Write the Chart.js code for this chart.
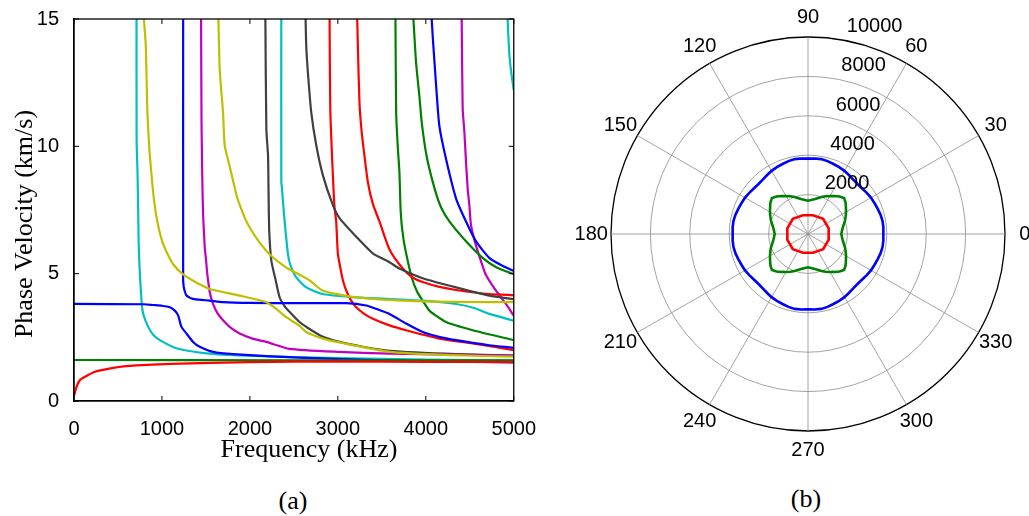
<!DOCTYPE html>
<html>
<head>
<meta charset="utf-8">
<script src="https://cdn.jsdelivr.net/npm/chart.js@4.4.1/dist/chart.umd.min.js"></script>
<style>
  body { margin: 0; background: #fff; width: 1029px; height: 516px; position: relative; overflow: hidden; }
  #leftBox { position: absolute; left: 0; top: 0; width: 544px; height: 470px; }
  #rightBox { position: absolute; left: 540px; top: 0; width: 489px; height: 470px; }
  .cap { position: absolute; font-family: 'Liberation Serif', 'Times New Roman', serif; font-size: 26px; color: #000; transform: translate(-50%, -50%); }
</style>
</head>
<body>
<div id="leftBox"><canvas id="dispChart" width="544" height="470"></canvas></div>
<div id="rightBox"><canvas id="polarChart" width="489" height="470"></canvas></div>
<div class="cap" style="left:293px; top:501px;">(a)</div>
<div class="cap" style="left:806px; top:499px;">(b)</div>
<script>
// ---- (a) dispersion curves: frequency (kHz) / phase velocity (km/s) ----
const xTicks = [0, 1000, 2000, 3000, 4000, 5000];
const yTicks = [0, 5, 10, 15];

const redA_f = [0, 30, 70, 150, 230, 400, 600, 1100, 2000, 3000, 4000, 5000];
const redA_v = [0.2, 0.57, 0.83, 1.0, 1.14, 1.27, 1.37, 1.46, 1.53, 1.55, 1.54, 1.53];

const greenA_f = [0, 2500, 5000];
const greenA_v = [1.61, 1.6, 1.6];

const blueA_f = [0, 800, 900, 1000, 1090, 1146, 1184, 1222, 1279, 1354, 1430, 1581, 1808, 2565, 3500, 5000];
const blueA_v = [3.81, 3.8, 3.77, 3.74, 3.68, 3.55, 3.36, 2.91, 2.65, 2.32, 2.13, 1.93, 1.84, 1.7, 1.6, 1.52];

const cyanA_f = [711, 712, 722, 728, 738, 768, 787, 844, 900, 976, 1165, 1506, 1960, 3000, 4000, 5000];
const cyanA_v = [15, 10.2, 9.0, 7.83, 5.88, 3.94, 3.42, 2.91, 2.6, 2.39, 2.07, 1.87, 1.78, 1.68, 1.63, 1.59];

const yellowA_f = [795, 817, 832, 855, 882, 912, 950, 1000, 1060, 1127, 1230, 1354, 1544, 1884, 2187, 2300, 2414, 2565, 2641, 2830, 3019, 3587, 4300, 5000];
const yellowA_v = [15, 13.9, 11.6, 10.0, 8.86, 7.83, 7.0, 6.3, 5.8, 5.37, 5.0, 4.72, 4.4, 4.14, 3.88, 3.62, 3.29, 2.95, 2.71, 2.45, 2.3, 1.93, 1.8, 1.74];

const blueB_f = [1241, 1241, 1244, 1249, 1262, 1279, 1320, 1354, 1450, 1544, 1695, 2000, 2565, 3095, 3322, 3450, 3587, 3776, 3965, 4150, 4344, 4722, 5000];
const blueB_v = [15, 4.74, 4.6, 4.46, 4.28, 4.14, 4.05, 4.01, 3.97, 3.94, 3.88, 3.85, 3.84, 3.84, 3.75, 3.6, 3.42, 3.04, 2.71, 2.52, 2.39, 2.19, 2.09];

const magentaA_f = [1445, 1450, 1460, 1468, 1487, 1500, 1512, 1525, 1545, 1581, 1630, 1695, 1780, 1884, 2030, 2187, 2450, 3000, 3587, 4300, 5000];
const magentaA_v = [15, 10.9, 8.5, 7.31, 6.01, 5.6, 5.1, 4.72, 4.25, 3.81, 3.45, 3.17, 2.88, 2.65, 2.45, 2.32, 2.05, 1.93, 1.86, 1.82, 1.78];

const yellowB_f = [1642, 1657, 1695, 1714, 1771, 1847, 1884, 1960, 2074, 2225, 2414, 2565, 2679, 2830, 3209, 3965, 5000];
const yellowB_v = [15, 13.0, 11.3, 10.03, 9.2, 8.09, 7.7, 7.05, 6.4, 5.76, 5.24, 4.96, 4.74, 4.33, 4.07, 3.91, 3.88];

const greyA_f = [2176, 2187, 2206, 2213, 2220, 2244, 2293, 2338, 2400, 2452, 2565, 2641, 2830, 3019, 3300, 3587, 4344, 5000];
const greyA_v = [15, 10.67, 9.64, 7.95, 6.66, 5.5, 4.74, 4.07, 3.7, 3.5, 3.1, 2.91, 2.52, 2.32, 2.12, 1.97, 1.84, 1.78];

const cyanB_f = [2357, 2357, 2365, 2376, 2395, 2433, 2460, 2527, 2641, 2830, 3209, 3965, 4344, 4550, 4722, 5000];
const cyanB_v = [15, 8.6, 8.34, 7.83, 7.05, 5.76, 5.35, 4.85, 4.46, 4.2, 4.07, 3.94, 3.81, 3.65, 3.42, 3.15];

const greyB_f = [2633, 2641, 2660, 2698, 2755, 2830, 2943, 3019, 3209, 3397, 3587, 3700, 3965, 4344, 4722, 5000];
const greyB_v = [15, 13.9, 12.87, 11.32, 10.03, 8.86, 7.7, 7.18, 6.45, 5.8, 5.45, 5.2, 4.82, 4.46, 4.14, 4.0];

const redB_f = [2906, 2914, 2943, 2963, 2981, 3000, 3030, 3060, 3100, 3150, 3209, 3300, 3397, 3580, 3776, 4154, 4533, 5000];
const redB_v = [15, 11.45, 8.9, 7.57, 7.05, 5.8, 5.2, 4.7, 4.3, 3.95, 3.68, 3.42, 3.23, 2.98, 2.78, 2.45, 2.26, 2.0];

const redC_f = [3220, 3227, 3246, 3270, 3300, 3341, 3397, 3473, 3587, 3738, 3850, 3965, 4154, 4344, 4722, 5000];
const redC_v = [15, 14.0, 11.7, 10.6, 9.7, 8.6, 7.75, 7.05, 5.95, 5.2, 4.85, 4.67, 4.48, 4.36, 4.2, 4.16];

const greenB_f = [3655, 3663, 3681, 3700, 3715, 3740, 3776, 3840, 3900, 3965, 4041, 4230, 4533, 5000];
const greenB_v = [15, 11.3, 10.0, 8.99, 7.4, 6.5, 5.8, 4.85, 4.3, 3.94, 3.55, 3.1, 2.78, 2.39];

const greenC_f = [3859, 3871, 3890, 3927, 3955, 4010, 4100, 4174, 4268, 4457, 4646, 4800, 5000];
const greenC_v = [15, 14.3, 13.26, 11.97, 10.9, 9.6, 8.34, 7.6, 7.05, 6.27, 5.62, 5.25, 4.98];

const blueC_f = [4067, 4079, 4117, 4154, 4230, 4344, 4457, 4571, 4722, 4850, 5000];
const blueC_v = [15, 14.3, 12.4, 10.8, 9.5, 7.95, 7.05, 6.27, 5.62, 5.35, 5.11];

const magentaB_f = [4408, 4419, 4438, 4457, 4476, 4495, 4514, 4571, 4646, 4684, 4798, 4911, 5000];
const magentaB_v = [15, 11.5, 10.6, 9.4, 8.34, 7.7, 6.9, 6.1, 5.3, 4.95, 4.33, 3.81, 3.35];

const cyanC_f = [4930, 4949, 4968, 5000];
const cyanC_v = [15, 13.65, 13.0, 12.2];

const BLUE = '#0000ff', GREEN = '#008000', RED = '#ff0000', CYAN = '#00bfbf',
      MAGENTA = '#bf00bf', YELLOW = '#bfbf00', GREY = '#404040';

function curve(f, v, color) {
  return {
    data: f.map((x, i) => ({ x: x, y: v[i] })),
    borderColor: color,
    borderWidth: 2.2,
    pointRadius: 0,
    showLine: true,
    tension: 0.2,
    fill: false
  };
}

const dispSets = [
  curve(redA_f, redA_v, RED),
  curve(greenA_f, greenA_v, GREEN),
  curve(blueA_f, blueA_v, BLUE),
  curve(cyanA_f, cyanA_v, CYAN),
  curve(yellowA_f, yellowA_v, YELLOW),
  curve(blueB_f, blueB_v, BLUE),
  curve(magentaA_f, magentaA_v, MAGENTA),
  curve(yellowB_f, yellowB_v, YELLOW),
  curve(greyA_f, greyA_v, GREY),
  curve(cyanB_f, cyanB_v, CYAN),
  curve(greyB_f, greyB_v, GREY),
  curve(redB_f, redB_v, RED),
  curve(redC_f, redC_v, RED),
  curve(greenB_f, greenB_v, GREEN),
  curve(greenC_f, greenC_v, GREEN),
  curve(blueC_f, blueC_v, BLUE),
  curve(magentaB_f, magentaB_v, MAGENTA),
  curve(cyanC_f, cyanC_v, CYAN)
];

const sansFont = { family: "'Liberation Sans', Arial, sans-serif", size: 20 };

// box, inward ticks and axis titles like the original figure
const frameLeft = {
  id: 'frameLeft',
  afterDraw(chart) {
    const { ctx, chartArea: a, scales: { x, y } } = chart;
    ctx.save();
    ctx.strokeStyle = '#000';
    ctx.lineWidth = 1.3;
    ctx.strokeRect(a.left, a.top, a.right - a.left, a.bottom - a.top);
    ctx.lineWidth = 1;
    ctx.beginPath();
    xTicks.forEach(t => {
      const px = x.getPixelForValue(t);
      ctx.moveTo(px, a.bottom); ctx.lineTo(px, a.bottom - 5);
      ctx.moveTo(px, a.top); ctx.lineTo(px, a.top + 5);
    });
    yTicks.forEach(t => {
      const py = y.getPixelForValue(t);
      ctx.moveTo(a.left, py); ctx.lineTo(a.left + 5, py);
      ctx.moveTo(a.right, py); ctx.lineTo(a.right - 5, py);
    });
    ctx.stroke();
    ctx.fillStyle = '#000';
    ctx.font = "26px 'Liberation Serif', 'Times New Roman', serif";
    ctx.textAlign = 'center';
    ctx.textBaseline = 'middle';
    ctx.fillText('Frequency (kHz)', 309, 450);
    ctx.translate(25, 224);
    ctx.rotate(-Math.PI / 2);
    ctx.fillText('Phase Velocity (km/s)', 0, 0);
    ctx.restore();
  }
};

new Chart(document.getElementById('dispChart'), {
  type: 'scatter',
  data: { datasets: dispSets },
  options: {
    responsive: false,
    animation: false,
    devicePixelRatio: 1,
    layout: { padding: { left: 0, right: 26, top: 15, bottom: 0 } },
    plugins: { legend: { display: false }, tooltip: { enabled: false } },
    scales: {
      x: {
        type: 'linear', min: 0, max: 5000,
        afterBuildTicks: s => { s.ticks = xTicks.map(v => ({ value: v })); },
        ticks: { font: sansFont, color: '#000', padding: 8, maxRotation: 0, callback: v => String(v) },
        grid: { display: false },
        border: { color: '#000', width: 1.3 },
        afterFit: s => { s.height = 69; }
      },
      y: {
        type: 'linear', min: 0, max: 15,
        afterBuildTicks: s => { s.ticks = yTicks.map(v => ({ value: v })); },
        ticks: { font: sansFont, color: '#000', padding: 7, callback: v => String(v) },
        grid: { display: false },
        border: { color: '#000', width: 1.3 },
        afterFit: s => { s.width = 74; }
      }
    }
  },
  plugins: [frameLeft]
});

// ---- (b) polar plot, angle in degrees (counter-clockwise from 0 at right) ----
const polarAngles = [0, 5, 10, 15, 20, 25, 30, 35, 40, 45, 50, 55, 60, 65, 70, 75, 80, 85,
  90, 95, 100, 105, 110, 115, 120, 125, 130, 135, 140, 145, 150, 155, 160, 165, 170, 175,
  180, 185, 190, 195, 200, 205, 210, 215, 220, 225, 230, 235, 240, 245, 250, 255, 260, 265,
  270, 275, 280, 285, 290, 295, 300, 305, 310, 315, 320, 325, 330, 335, 340, 345, 350, 355];
const radialTicks = [2000, 4000, 6000, 8000, 10000];

const bluePolar = [3824, 3840, 3840, 3810, 3760, 3720, 3690, 3640, 3590, 3570, 3590, 3640, 3700, 3740, 3780, 3830, 3860, 3850,
  3824, 3850, 3860, 3830, 3780, 3740, 3700, 3640, 3590, 3570, 3590, 3640, 3690, 3720, 3760, 3810, 3840, 3840,
  3824, 3840, 3840, 3810, 3760, 3720, 3690, 3640, 3590, 3570, 3590, 3640, 3700, 3740, 3780, 3830, 3860, 3850,
  3824, 3850, 3860, 3830, 3780, 3740, 3700, 3640, 3590, 3570, 3590, 3640, 3690, 3720, 3760, 3810, 3840, 3840];
const greenPolar = [1690, 1730, 1790, 1880, 2000, 2110, 2230, 2350, 2490, 2590, 2490, 2350, 2230, 2110, 2000, 1880, 1790, 1730,
  1690, 1730, 1790, 1880, 2000, 2110, 2230, 2350, 2490, 2590, 2490, 2350, 2230, 2110, 2000, 1880, 1790, 1730,
  1690, 1730, 1790, 1880, 2000, 2110, 2230, 2350, 2490, 2590, 2490, 2350, 2230, 2110, 2000, 1880, 1790, 1730,
  1690, 1730, 1790, 1880, 2000, 2110, 2230, 2350, 2490, 2590, 2490, 2350, 2230, 2110, 2000, 1880, 1790, 1730];
const redPolar = [null, null, null, 1086, null, null, null, null, null, 1090, null, null, null, null, null, 985, null, null,
  null, null, null, 985, null, null, null, null, null, 1090, null, null, null, null, null, 1086, null, null,
  null, null, null, 1086, null, null, null, null, null, 1090, null, null, null, null, null, 985, null, null,
  null, null, null, 985, null, null, null, null, null, 1090, null, null, null, null, null, 1086, null, null];

// radar goes clockwise, so slot i holds angle (360 - 5i)
const slot = i => (polarAngles.length - i) % polarAngles.length;
const radarLabels = polarAngles.map((a, i) => polarAngles[slot(i)]);
const toRadar = arr => arr.map((v, i) => arr[slot(i)]);

const polarText = {
  id: 'polarText',
  afterDraw(chart) {
    const r = chart.scales.r;
    const ctx = chart.ctx;
    ctx.save();
    ctx.fillStyle = '#000';
    ctx.font = "20px 'Liberation Sans', Arial, sans-serif";
    ctx.textAlign = 'center';
    ctx.textBaseline = 'middle';
    radarLabels.forEach((lab, i) => {
      if (lab % 30 !== 0) return;
      const p = r.getPointPosition(i, r.drawingArea * 1.1);
      ctx.fillText(String(lab), p.x, p.y);
    });
    ctx.textAlign = 'left';
    ctx.textBaseline = 'bottom';
    const a = 82 * Math.PI / 180;
    radialTicks.forEach(v => {
      const d = r.getDistanceFromCenterForValue(v + 100);
      ctx.fillText('  ' + v, r.xCenter + d * Math.cos(a), r.yCenter - d * Math.sin(a));
    });
    ctx.restore();
  }
};

new Chart(document.getElementById('polarChart'), {
  type: 'radar',
  data: {
    labels: radarLabels,
    datasets: [
      { data: toRadar(bluePolar), borderColor: BLUE, borderWidth: 2.6, fill: false },
      { data: toRadar(greenPolar), borderColor: GREEN, borderWidth: 2.6, fill: false },
      { data: toRadar(redPolar), borderColor: RED, borderWidth: 2.6, fill: false, spanGaps: true }
    ]
  },
  options: {
    responsive: false,
    animation: false,
    devicePixelRatio: 1,
    layout: { padding: { left: 71, right: 24, top: 37, bottom: 39 } },
    plugins: { legend: { display: false }, tooltip: { enabled: false } },
    elements: { point: { radius: 0 }, line: { tension: 0 } },
    scales: {
      r: {
        min: 0, max: 10000, startAngle: 90,
        ticks: { display: false, stepSize: 2000 },
        pointLabels: { display: false },
        grid: {
          circular: true,
          color: c => (c.tick && c.tick.value === 10000 ? '#000' : '#8c8c8c'),
          lineWidth: c => (c.tick && c.tick.value === 10000 ? 1.3 : 0.8)
        },
        angleLines: {
          color: '#8c8c8c',
          lineWidth: c => (radarLabels[c.index] % 30 === 0 ? 0.8 : 0)
        }
      }
    }
  },
  plugins: [polarText]
});
</script>
</body>
</html>
